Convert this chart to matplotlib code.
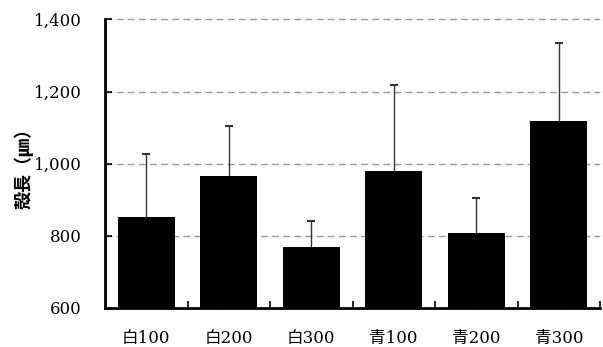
import matplotlib
matplotlib.use("Agg")
import matplotlib.pyplot as plt
import numpy as np

categories = ["白100", "白200", "白300", "青100", "青200", "青300"]
means = [853, 967, 769, 981, 809, 1119]
errors = [175, 138, 73, 237, 97, 217]
yticks = [600, 800, 1000, 1200, 1400]
ytick_labels = ["600", "800", "1,000", "1,200", "1,400"]
ylabel = "殻長（㎛）"

plt.rcParams['font.family'] = ['DejaVu Serif', 'Noto Sans CJK JP']

fig = plt.figure(figsize=(6.03, 3.47), dpi=100)
ax = fig.add_axes([105/603, 1-308/347, 495/603, (308-19.5)/347])

x = np.arange(len(categories))
ax.bar(x, means, width=0.69, color='black', zorder=3)
eb = ax.errorbar(x, means, yerr=[np.zeros(len(errors)), errors], fmt='none',
                 ecolor='#333333', elinewidth=1.0, capsize=3, capthick=1.5, zorder=2)
caplines = eb.lines[1]
if len(caplines) == 2:
    caplines[0].set_visible(False)

ax.set_xlim(-0.5, len(categories) - 0.5)
ax.set_ylim(600, 1400)
ax.set_yticks(yticks)
ax.set_yticklabels(ytick_labels, fontsize=12)
ax.set_xticks(x)
ax.set_xticklabels(categories, fontsize=12)
ax.set_xticks(np.arange(0.5, len(categories), 1), minor=True)
ax.tick_params(axis='x', which='major', length=0, pad=16)
ax.tick_params(axis='x', which='minor', direction='in', length=5, width=1.2)
ax.tick_params(axis='y', direction='in', length=5, width=1.2, pad=17)

ax.yaxis.grid(True, linestyle=(0, (5, 3)), color='#999999', linewidth=1.0, zorder=0)
for gl in ax.get_ygridlines():
    gl.set_clip_on(False)
ax.set_axisbelow(True)

for s in ['top', 'right']:
    ax.spines[s].set_visible(False)
for s in ['left', 'bottom']:
    ax.spines[s].set_linewidth(2)

ax.set_ylabel(ylabel, fontsize=13, family=['Noto Sans CJK JP'], fontweight='bold', labelpad=0)

fig.savefig("out.png", dpi=100)
